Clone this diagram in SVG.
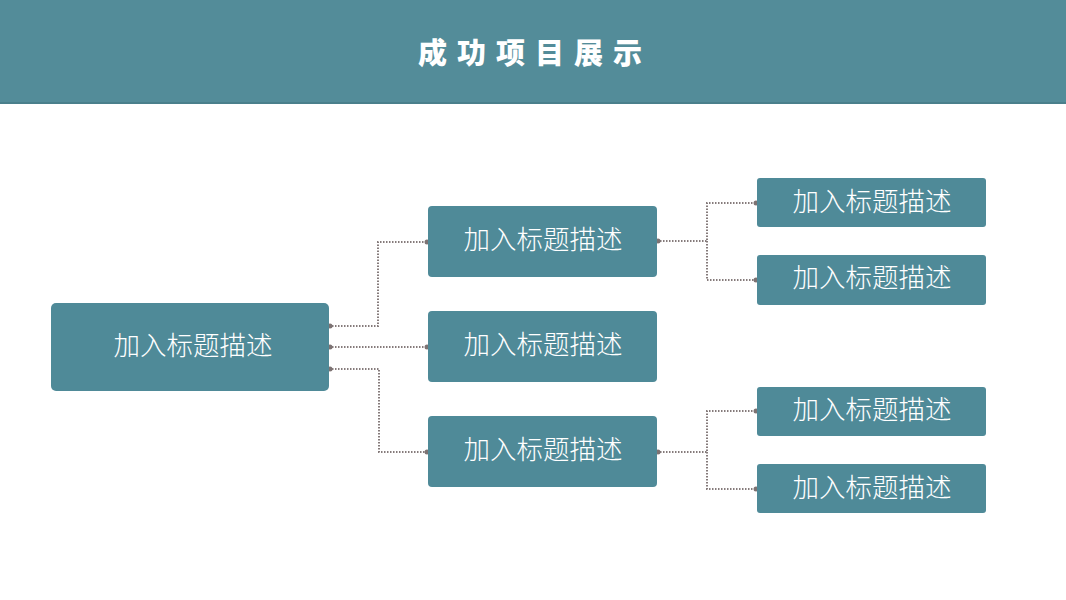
<svg xmlns="http://www.w3.org/2000/svg" width="1066" height="600" viewBox="0 0 1066 600">
  <style>
    .box { fill: #4f8a98; }
    .lbl { fill: #ffffff; font-family: "Noto Sans CJK SC", "Liberation Sans", sans-serif; font-size: 26.5px; font-weight: 300; text-anchor: middle; dominant-baseline: central; }
    .title { fill: #ffffff; font-family: "Noto Sans CJK SC", "Liberation Sans", sans-serif; font-size: 29px; font-weight: 900; text-anchor: middle; dominant-baseline: central; letter-spacing: 10px; }
    .con { fill: none; stroke: #857b7b; stroke-width: 2; stroke-dasharray: 1.5 1.5; }
    .dot { fill: #7d7373; }
  </style>
  <rect width="1066" height="600" fill="#ffffff"/>
  <g id="header">
    <rect x="0" y="0" width="1066" height="103" fill="#538c99"/>
    <rect x="0" y="102" width="1066" height="2" fill="#4a7f8b"/>
    <text class="title" x="535" y="51">成功项目展示</text>
  </g>
  <g id="connectors">
    <path class="con" d="M329,326 H378 V242 H428"/>
    <path class="con" d="M329,347 H428"/>
    <path class="con" d="M329,369 H379 V452 H428"/>
    <path class="con" d="M657,241 H707 V203 H757"/>
    <path class="con" d="M707,241 V280 H757"/>
    <path class="con" d="M657,452 H707 V411 H757"/>
    <path class="con" d="M707,452 V489 H757"/>
    <circle class="dot" cx="330" cy="326" r="2.5"/>
    <circle class="dot" cx="330" cy="347" r="2.5"/>
    <circle class="dot" cx="330" cy="369" r="2.5"/>
    <circle class="dot" cx="427" cy="242" r="2.5"/>
    <circle class="dot" cx="427" cy="347" r="2.5"/>
    <circle class="dot" cx="427" cy="452" r="2.5"/>
    <circle class="dot" cx="658" cy="241" r="2.5"/>
    <circle class="dot" cx="658" cy="452" r="2.5"/>
    <circle class="dot" cx="756" cy="203" r="2.5"/>
    <circle class="dot" cx="756" cy="280" r="2.5"/>
    <circle class="dot" cx="756" cy="411" r="2.5"/>
    <circle class="dot" cx="756" cy="489" r="2.5"/>
  </g>
  <g id="root">
    <rect class="box" x="51" y="303" width="278" height="88" rx="5"/>
    <text class="lbl" x="193" y="343">加入标题描述</text>
  </g>
  <g id="mid1">
    <rect class="box" x="428" y="206" width="229" height="71" rx="4"/>
    <text class="lbl" x="543" y="237">加入标题描述</text>
  </g>
  <g id="mid2">
    <rect class="box" x="428" y="311" width="229" height="71" rx="4"/>
    <text class="lbl" x="543" y="342">加入标题描述</text>
  </g>
  <g id="mid3">
    <rect class="box" x="428" y="416" width="229" height="71" rx="4"/>
    <text class="lbl" x="543" y="447">加入标题描述</text>
  </g>
  <g id="right1">
    <rect class="box" x="757" y="178" width="229" height="49" rx="3"/>
    <text class="lbl" x="872" y="199">加入标题描述</text>
  </g>
  <g id="right2">
    <rect class="box" x="757" y="255" width="229" height="50" rx="3"/>
    <text class="lbl" x="872" y="275">加入标题描述</text>
  </g>
  <g id="right3">
    <rect class="box" x="757" y="387" width="229" height="49" rx="3"/>
    <text class="lbl" x="872" y="407">加入标题描述</text>
  </g>
  <g id="right4">
    <rect class="box" x="757" y="464" width="229" height="49" rx="3"/>
    <text class="lbl" x="872" y="485">加入标题描述</text>
  </g>
</svg>
